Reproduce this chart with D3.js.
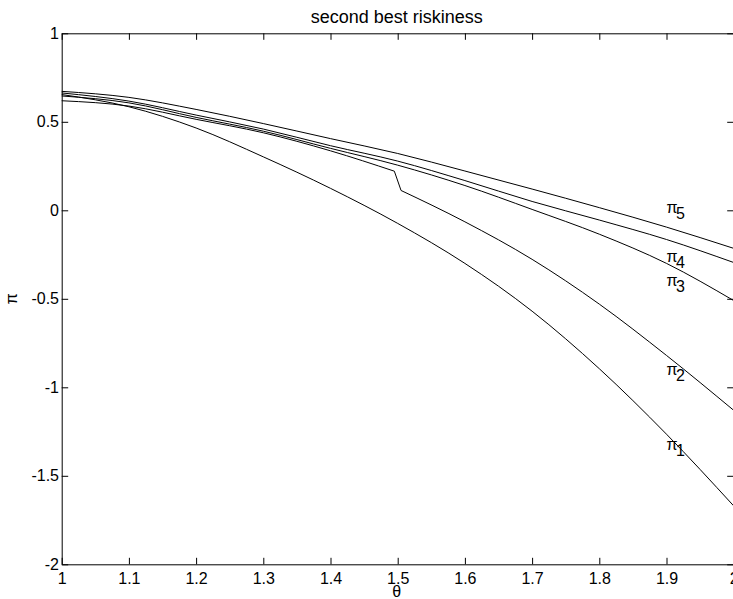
<!DOCTYPE html>
<html>
<head>
<meta charset="utf-8">
<script src="https://cdn.jsdelivr.net/npm/d3@7"></script>
<style>
  html, body { margin: 0; padding: 0; background: #fff; }
  svg { display: block; font-family: "Liberation Sans", Arial, Helvetica, sans-serif; }
</style>
</head>
<body>
<svg id="chart" width="733" height="599"></svg>
<script>
// ---- data ----
const titleText = "second best riskiness";
const xLabel = "θ";
const yLabel = "π";
const xTicks = [1, 1.1, 1.2, 1.3, 1.4, 1.5, 1.6, 1.7, 1.8, 1.9, 2];
const xTickLabels = ["1", "1.1", "1.2", "1.3", "1.4", "1.5", "1.6", "1.7", "1.8", "1.9", "2"];
const yTicks = [1, 0.5, 0, -0.5, -1, -1.5, -2];
const yTickLabels = ["1", "0.5", "0", "-0.5", "-1", "-1.5", "-2"];

const theta = [1.0, 1.1, 1.2, 1.3, 1.4, 1.5, 1.6, 1.7, 1.8, 1.9, 2.0];
const pi1 = [0.654, 0.585, 0.465, 0.302, 0.124, -0.074, -0.300, -0.570, -0.895, -1.265, -1.670];
const pi3 = [0.646, 0.607, 0.525, 0.447, 0.350, 0.255, 0.140, 0.005, -0.135, -0.300, -0.510];
const pi4 = [0.663, 0.617, 0.538, 0.459, 0.365, 0.278, 0.168, 0.050, -0.055, -0.165, -0.295];
const pi5 = [0.672, 0.638, 0.570, 0.490, 0.405, 0.321, 0.222, 0.120, 0.015, -0.095, -0.215];
// pi2 has a jump just around theta = 1.5 (branch before / branch after)
const theta2a = [1.0, 1.1, 1.2, 1.3, 1.4, 1.495];
const pi2a = [0.619, 0.589, 0.514, 0.438, 0.336, 0.221];
const theta2b = [1.505, 1.6, 1.7, 1.8, 1.9, 2.0];
const pi2b = [0.112, -0.065, -0.277, -0.530, -0.820, -1.130];

const seriesNames = ["1", "2", "3", "4", "5"];
const labelTheta = 1.9;
const labelPi = [-1.355, -0.931, -0.428, -0.291, -0.016];

// ---- layout ----
const svg = d3.select("#chart");
const x = d3.scaleLinear().domain([1, 2]).range([61.7, 733.7]);
const y = d3.scaleLinear().domain([-2, 1]).range([564.3, 33.3]);
const tickLen = 6.5;
const fs = 16;

const toPts = (xs, ys) => xs.map((t, i) => [t, ys[i]]);
const smooth = d3.line().x(d => x(d[0])).y(d => y(d[1])).curve(d3.curveMonotoneX);
const straight = d3.line().x(d => x(d[0])).y(d => y(d[1]));

const g = svg.append("g");
function draw(pts, gen) {
  g.append("path").datum(pts).attr("d", gen)
    .attr("fill", "none").attr("stroke", "#000").attr("stroke-width", 1);
}
draw(toPts(theta, pi1), smooth);
draw(toPts(theta2a, pi2a), smooth);
draw([[theta2a[theta2a.length - 1], pi2a[pi2a.length - 1]], [theta2b[0], pi2b[0]]], straight);
draw(toPts(theta2b, pi2b), smooth);
draw(toPts(theta, pi3), smooth);
draw(toPts(theta, pi4), smooth);
draw(toPts(theta, pi5), smooth);

// axes (box with inward ticks on all sides)
const axB = d3.axisBottom(x).tickValues(xTicks).tickFormat((d, i) => xTickLabels[i])
  .tickSizeInner(-tickLen).tickSizeOuter(0).tickPadding(8);
const axT = d3.axisTop(x).tickValues(xTicks).tickFormat("")
  .tickSizeInner(-tickLen).tickSizeOuter(0);
const axL = d3.axisLeft(y).tickValues(yTicks).tickFormat((d, i) => yTickLabels[i])
  .tickSizeInner(-tickLen).tickSizeOuter(0).tickPadding(2.7);
const axR = d3.axisRight(y).tickValues(yTicks).tickFormat("")
  .tickSizeInner(-tickLen).tickSizeOuter(0);

function styleAxis(sel) {
  sel.select(".domain").attr("stroke", "#000").attr("stroke-width", 1);
  sel.selectAll(".tick line").attr("stroke", "#000").attr("stroke-width", 1);
  sel.selectAll(".tick text").attr("fill", "#000")
    .style("font-size", fs + "px")
    .style("font-family", "'Liberation Sans', Arial, sans-serif");
}

svg.append("g").attr("transform", `translate(0,${y(-2)})`).call(axB).call(styleAxis);
svg.append("g").attr("transform", `translate(0,${y(1)})`).call(axT).call(styleAxis);
svg.append("g").attr("transform", `translate(${x(1)},0)`).call(axL).call(styleAxis);
svg.append("g").attr("transform", `translate(${x(2)},0)`).call(axR).call(styleAxis);

// title and axis labels
svg.append("text")
  .attr("x", (x(1) + x(2)) / 2 - 1).attr("y", 23)
  .attr("text-anchor", "middle").style("font-size", "18px")
  .text(titleText);
svg.append("text")
  .attr("x", (x(1) + x(2)) / 2 - 1).attr("y", 597)
  .attr("text-anchor", "middle").style("font-size", fs + "px")
  .text(xLabel);
svg.append("text")
  .attr("transform", `translate(17,${(y(1) + y(-2)) / 2}) rotate(-90)`)
  .attr("text-anchor", "middle").style("font-size", fs + "px")
  .text(yLabel);

// curve labels
seriesNames.forEach((n, i) => {
  const t = svg.append("text")
    .attr("x", x(labelTheta)).attr("y", y(labelPi[i]))
    .style("font-size", fs + "px");
  t.append("tspan").text("π");
  t.append("tspan").attr("dx", -1.5).attr("dy", 6).text(n);
});
</script>
</body>
</html>
